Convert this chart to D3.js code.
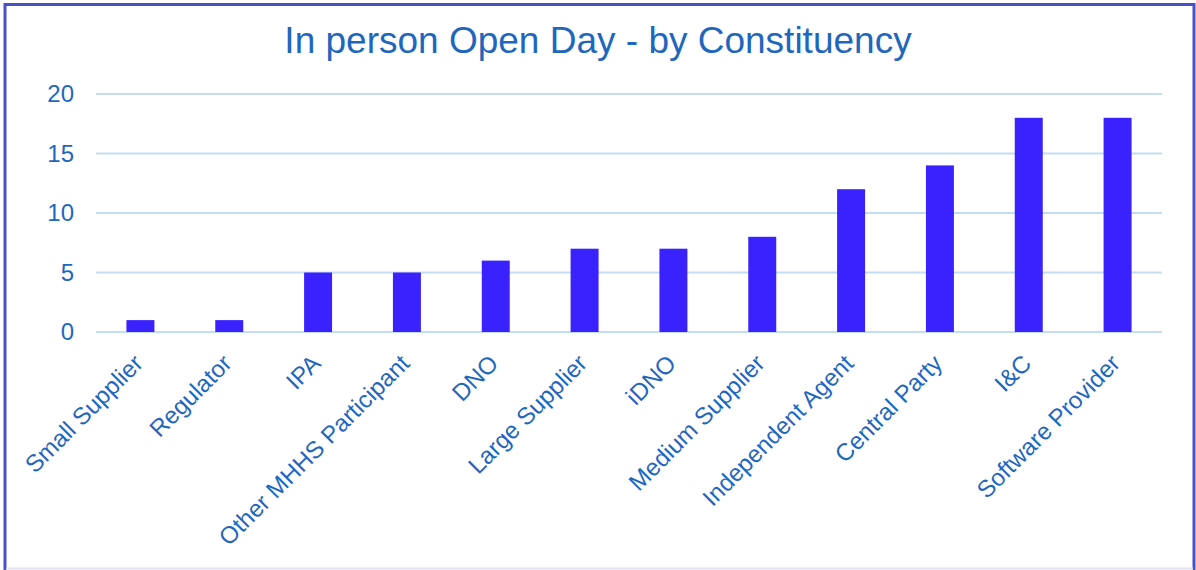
<!DOCTYPE html>
<html><head><meta charset="utf-8">
<script src="https://cdn.jsdelivr.net/npm/d3@7"></script>
<style>body{margin:0;background:#fff}svg{display:block;font-family:"Liberation Sans",Arial,sans-serif}</style>
</head><body>
<svg id="c" width="1196" height="570"></svg>
<script>
const title = "In person Open Day - by Constituency";
const categories = ["Small Supplier","Regulator","IPA","Other MHHS Participant","DNO","Large Supplier","iDNO","Medium Supplier","Independent Agent","Central Party","I&C","Software Provider"];
const values = [1,1,5,5,6,7,7,8,12,14,18,18];
const yTicks = [0,5,10,15,20];

const svg = d3.select("#c");
const textColor = "#1f67bd";
// frame
svg.append("line").attr("x1",5).attr("x2",5).attr("y1",3).attr("y2",570).attr("stroke","#4a50c8").attr("stroke-width",3);
svg.append("line").attr("x1",4).attr("x2",1195).attr("y1",4.5).attr("y2",4.5).attr("stroke","#4a50c8").attr("stroke-width",3);
svg.append("line").attr("x1",1194).attr("x2",1194).attr("y1",3).attr("y2",570).attr("stroke","#4a50c8").attr("stroke-width",3);
svg.append("line").attr("x1",6).attr("x2",1193).attr("y1",568.5).attr("y2",568.5).attr("stroke","#e2e2ee").attr("stroke-width",2);

const x = d3.scaleBand().domain(categories).range([96,1162]).paddingInner(0.685).paddingOuter(0.3425);
const y = d3.scaleLinear().domain([0,20]).range([332,94]);

svg.append("text").attr("x",598).attr("y",53).attr("text-anchor","middle")
  .attr("font-size",37).attr("fill",textColor).text(title);

// gridlines
svg.append("g").selectAll("line").data(yTicks).join("line")
  .attr("x1",96).attr("x2",1162).attr("y1",d=>y(d)).attr("y2",d=>y(d))
  .attr("stroke","#c4ddf4").attr("stroke-width",2);

// y axis
const ya = svg.append("g").attr("transform","translate(96,0)")
  .call(d3.axisLeft(y).tickValues(yTicks).tickSize(0).tickPadding(22));
ya.select(".domain").remove();
ya.selectAll("text").attr("font-size",24).attr("fill",textColor).attr("font-family","Liberation Sans, Arial, sans-serif");

// bars
svg.append("g").selectAll("rect").data(values).join("rect")
  .attr("x",(d,i)=>x(categories[i])).attr("width",x.bandwidth())
  .attr("y",d=>y(d)).attr("height",d=>y(0)-y(d))
  .attr("fill","#3a22ff");

// x labels
svg.append("g").selectAll("text").data(categories).join("text")
  .attr("transform",d=>`translate(${x(d)+x.bandwidth()/2-2},${359}) rotate(-45)`)
  .attr("text-anchor","end").attr("dy","0.35em")
  .attr("font-size",24).attr("fill",textColor).text(d=>d);
</script>
</body></html>
